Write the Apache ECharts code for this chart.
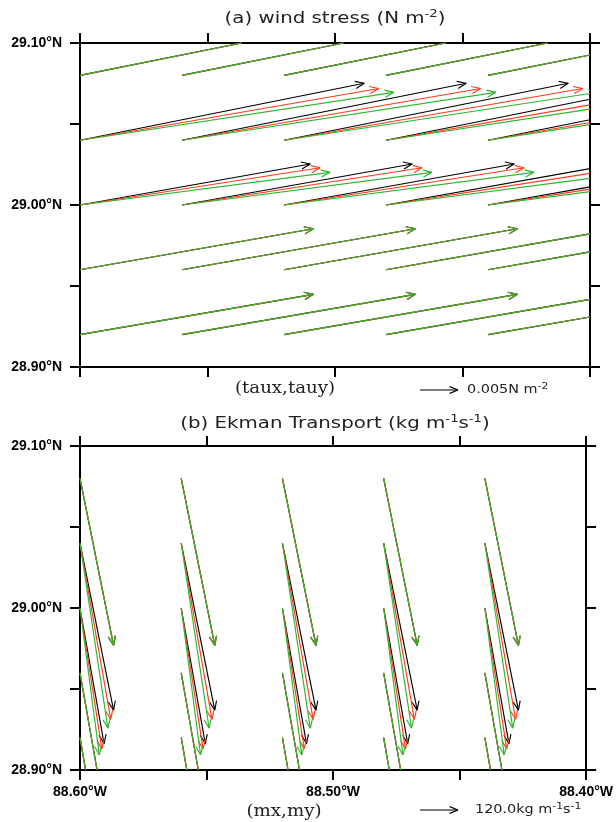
<!DOCTYPE html>
<html>
<head>
<meta charset="utf-8">
<script src="https://cdn.jsdelivr.net/npm/echarts@6/dist/echarts.min.js"></script>
<style>
  html, body { margin: 0; padding: 0; background: #fff; }
  #chart { width: 616px; height: 822px; }
</style>
</head>
<body>
<div id="chart"></div>
<script>
// Grid points (degrees east / north)
const lonGrid = [-88.60, -88.56, -88.52, -88.48, -88.44, -88.40];
const latGrid = [28.92, 28.96, 29.00, 29.04, 29.08];

// Wind stress per latitude row (N m-2), three overlays
const tauxBlack = [0.0307, 0.0307, 0.0303, 0.0374, 0.0374];
const tauyBlack = [0.0053, 0.0054, 0.0054, 0.0075, 0.0075];
const tauxRed   = [0.0307, 0.0307, 0.0316, 0.0393, 0.0374];
const tauyRed   = [0.0053, 0.0054, 0.0049, 0.0068, 0.0075];
const tauxGreen = [0.0307, 0.0307, 0.0329, 0.0413, 0.0374];
const tauyGreen = [0.0053, 0.0054, 0.0043, 0.0063, 0.0075];

// Ekman transport per latitude row (kg m-1 s-1), three overlays
const mxBlack = [75, 76, 76, 106, 106];
const myBlack = [-433, -433, -428, -527, -527];
const mxRed   = [75, 76, 69, 97, 106];
const myRed   = [-433, -433, -445, -556, -527];
const mxGreen = [75, 76, 61, 88, 106];
const myGreen = [-433, -433, -464, -584, -527];

// Reference vectors
const refStress = 0.005;     // N m-2
const refTransport = 120.0;  // kg m-1 s-1

// Labelled ticks
const lonLabelTicks = [-88.60, -88.50, -88.40];
const latLabelTicks = [28.90, 29.00, 29.10];

const REF_LEN = 38;          // pixel length of a reference vector
const COLORS = { black: '#000000', red: '#ff3a1c', green: '#2fb52f' };
const LW = 1.15;

// Liang-Barsky clip of segment a-b against rect r; returns null when outside
function clipSeg(a, b, r) {
  if (!r) return [a, b];
  const dx = b[0] - a[0], dy = b[1] - a[1];
  let t0 = 0, t1 = 1;
  const p = [-dx, dx, -dy, dy];
  const q = [a[0] - r.x, r.x + r.width - a[0], a[1] - r.y, r.y + r.height - a[1]];
  for (let i = 0; i < 4; i++) {
    if (p[i] === 0) { if (q[i] < 0) return null; continue; }
    const t = q[i] / p[i];
    if (p[i] < 0) { if (t > t1) return null; if (t > t0) t0 = t; }
    else { if (t < t0) return null; if (t < t1) t1 = t; }
  }
  if (t1 - t0 < 1e-6) return null;
  return [[a[0] + t0 * dx, a[1] + t0 * dy], [a[0] + t1 * dx, a[1] + t1 * dy]];
}

function arrowChildren(tail, tip, color, rect) {
  const dx = tip[0] - tail[0], dy = tip[1] - tail[1];
  const len = Math.sqrt(dx * dx + dy * dy) || 1;
  const ux = dx / len, uy = dy / len;
  const h = Math.min(9, 0.22 * len), w = h * 0.4;
  const style = { stroke: color, lineWidth: LW, fill: null };
  const segs = [
    [tail, tip],
    [[tip[0] - h * ux - w * uy, tip[1] - h * uy + w * ux], tip],
    [[tip[0] - h * ux + w * uy, tip[1] - h * uy - w * ux], tip]
  ];
  const kids = [];
  segs.forEach(s => {
    const c = clipSeg(s[0], s[1], rect);
    if (c) kids.push({ type: 'line', shape: { x1: c[0][0], y1: c[0][1], x2: c[1][0], y2: c[1][1] }, style });
  });
  return kids;
}

function vectorSeries(axisIdx, us, vs, color, refMag) {
  const data = [];
  latGrid.forEach((lat, i) => {
    lonGrid.forEach(lon => data.push([lon, lat, us[i], vs[i]]));
  });
  return {
    type: 'custom',
    xAxisIndex: axisIdx,
    yAxisIndex: axisIdx,
    silent: true,
    animation: false,
    data,
    encode: { x: 0, y: 1 },
    renderItem(params, api) {
      const tail = api.coord([api.value(0), api.value(1)]);
      const k = REF_LEN / refMag;
      const tip = [tail[0] + api.value(2) * k, tail[1] - api.value(3) * k];
      const cs = params.coordSys;
      return { type: 'group', children: arrowChildren(tail, tip, color, { x: cs.x, y: cs.y, width: cs.width, height: cs.height }) };
    }
  };
}

const axisLine = { show: true, onZero: false, lineStyle: { color: '#000', width: 2 } };
const axisTick = { show: true, inside: false, length: 10, lineStyle: { color: '#000', width: 2 } };
const labelFont = { color: '#000', fontSize: 14, fontWeight: 'bold', fontFamily: 'Liberation Sans, Arial, sans-serif' };

function near(v, list) { return list.some(t => Math.abs(t - v) < 1e-6); }

function xAxisDef(gridIndex, position, showLabel) {
  return {
    type: 'value', gridIndex, position, min: -88.60, max: -88.40, interval: 0.05,
    axisLine, axisTick, splitLine: { show: false },
    axisLabel: {
      show: showLabel, margin: 15, ...labelFont, showMinLabel: true, showMaxLabel: true,
      formatter: v => near(v, lonLabelTicks) ? Math.abs(v).toFixed(2) + '°W' : ''
    }
  };
}
function yAxisDef(gridIndex, position, showLabel) {
  return {
    type: 'value', gridIndex, position, min: 28.90, max: 29.10, interval: 0.05,
    axisLine, axisTick, splitLine: { show: false },
    axisLabel: {
      show: showLabel, margin: 18, ...labelFont, showMinLabel: true, showMaxLabel: true,
      formatter: v => near(v, latLabelTicks) ? v.toFixed(2) + '°N' : ''
    }
  };
}

const sans = 'DejaVu Sans, Verdana, sans-serif';
const serif = 'DejaVu Serif, Liberation Serif, serif';
function richText(x, y, text, size, supSize, align, scaleX, family) {
  return {
    type: 'text', x, y, scaleX, silent: true,
    style: {
      text, align, verticalAlign: 'middle',
      rich: {
        n: { fontSize: size, fontFamily: family, fill: '#222', lineHeight: size + 4 },
        s: { fontSize: supSize, fontFamily: family, fill: '#222', lineHeight: supSize, verticalAlign: 'top' }
      }
    }
  };
}

function refArrow(y, x0, refMag) {
  const tip = [x0 + refMag * (REF_LEN / refMag), y];
  return { type: 'group', silent: true, children: arrowChildren([x0, y], tip, '#000', null) };
}

const chart = echarts.init(document.getElementById('chart'), null, { renderer: 'canvas' });
chart.setOption({
  animation: false,
  backgroundColor: '#fff',
  grid: [
    { left: 80, top: 43, width: 510, height: 324 },
    { left: 80, top: 446, width: 510, height: 324 }
  ],
  xAxis: [ xAxisDef(0, 'bottom', false), xAxisDef(1, 'bottom', true), xAxisDef(0, 'top', false), xAxisDef(1, 'top', false) ],
  yAxis: [ yAxisDef(0, 'left', true), yAxisDef(1, 'left', true), yAxisDef(0, 'right', false), yAxisDef(1, 'right', false) ],
  series: [
    vectorSeries(0, tauxBlack, tauyBlack, COLORS.black, refStress),
    vectorSeries(0, tauxRed, tauyRed, COLORS.red, refStress),
    vectorSeries(0, tauxGreen, tauyGreen, COLORS.green, refStress),
    vectorSeries(1, mxBlack, myBlack, COLORS.black, refTransport),
    vectorSeries(1, mxRed, myRed, COLORS.red, refTransport),
    vectorSeries(1, mxGreen, myGreen, COLORS.green, refTransport)
  ],
  graphic: [
    richText(335, 19, '{n|(a) wind stress (N m}{s|-2}{n|)}', 15, 10, 'center', 1.32, sans),
    richText(335, 424, '{n|(b) Ekman Transport (kg m}{s|-1}{n|s}{s|-1}{n|)}', 15, 10, 'center', 1.32, sans),
    { type: 'text', x: 285, y: 389, scaleX: 1.07, silent: true,
      style: { text: '(taux,tauy)', fontSize: 17, fontFamily: serif, fill: '#222', align: 'center', verticalAlign: 'middle' } },
    { type: 'text', x: 284, y: 812, scaleX: 1.07, silent: true,
      style: { text: '(mx,my)', fontSize: 17, fontFamily: serif, fill: '#222', align: 'center', verticalAlign: 'middle' } },
    refArrow(390, 420, refStress),
    richText(467, 390, '{n|' + refStress.toFixed(3) + 'N m}{s|-2}', 12, 9, 'left', 1.2, sans),
    refArrow(810, 420, refTransport),
    richText(475, 810, '{n|' + refTransport.toFixed(1) + 'kg m}{s|-1}{n|s}{s|-1}', 12, 9, 'left', 1.2, sans)
  ]
});
</script>
</body>
</html>
